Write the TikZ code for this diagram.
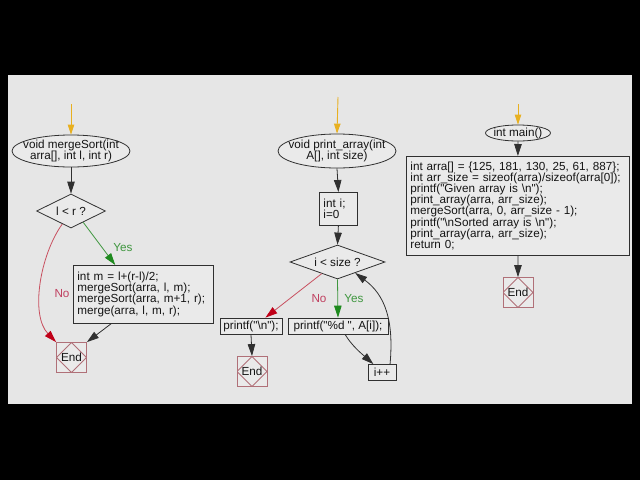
\documentclass[tikz,border=0pt]{standalone}
\usepackage{fontspec}
\newfontfamily\codefont{Liberation Sans}
\usetikzlibrary{shapes.geometric,arrows.meta,calc}
\definecolor{panelc}{HTML}{E6E6E6}
\definecolor{boxc}{HTML}{EAEAEA}
\definecolor{bordc}{HTML}{303030}
\definecolor{txtc}{HTML}{141414}
\definecolor{endc}{HTML}{B07078}
\definecolor{yesc}{HTML}{3E963E}
\definecolor{yestip}{HTML}{1E8A1E}
\definecolor{noc}{HTML}{C85060}
\definecolor{notip}{HTML}{C00018}
\definecolor{notext}{HTML}{C04060}
\definecolor{startc}{HTML}{E8B020}
\begin{document}
\begin{tikzpicture}[x=1pt,y=-1pt,
  every node/.style={font=\codefont\fontsize{11.7}{11.1}\selectfont, text=txtc},
  flow/.style={draw=bordc, line width=0.8pt, -{Triangle[length=12pt,width=7.5pt]}},
  startarrow/.style={draw=startc, line width=0.9pt, -{Triangle[length=10pt,width=6.5pt]}},
  yesarrow/.style={draw=yesc, line width=0.8pt, -{Triangle[length=12pt,width=7.5pt,color=yestip]}},
  noarrow/.style={draw=noc, line width=0.8pt, -{Triangle[length=12pt,width=7.5pt,color=notip]}},
  ellnode/.style={ellipse, draw=bordc, fill=boxc, line width=0.8pt, inner sep=0pt},
  dec/.style={diamond, draw=bordc, fill=boxc, line width=0.8pt, inner sep=0pt},
  box/.style={rectangle, draw=bordc, fill=boxc, line width=0.8pt, inner xsep=4pt, inner ysep=1pt, align=left, anchor=north west},
  sbox/.style={rectangle, draw=bordc, fill=boxc, line width=0.8pt, inner sep=0pt, minimum height=16pt},
  endbox/.style={rectangle, draw=endc, fill=boxc, line width=0.8pt, inner sep=0pt, minimum size=30pt,
    path picture={\draw[endc, line width=0.8pt] (path picture bounding box.north) -- (path picture bounding box.east) -- (path picture bounding box.south) -- (path picture bounding box.west) -- cycle;}},
  yeslbl/.style={text=yesc},
  nolbl/.style={text=notext}]
\fill[black] (0,0) rectangle (640,480);
\useasboundingbox (0,0) rectangle (640,480);
\fill[panelc] (8,75) rectangle (632,404);

% ---- mergeSort ----
\coordinate (s1) at (71,104);
\node[ellnode, minimum width=118pt, minimum height=32pt] (e1) at (71,151) {};
\node[align=center] (e1t) at (e1) {void mergeSort(int\\arra[], int l, int r)};
\node[dec, minimum width=69pt, minimum height=34pt, aspect=2] (d1) at (71,211) {l < r ?};
\node[box, minimum width=140pt, minimum height=58pt, text width=132pt] (b1) at (73,265)
  {int m = l+(r-l)/2;\\mergeSort(arra, l, m);\\mergeSort(arra, m+1, r);\\merge(arra, l, m, r);};
\node[endbox] (end1) at (71.5,357.5) {End};

\draw[startarrow] (s1) -- (e1.north);
\draw[flow] (e1.south) -- (d1.north);
\draw[yesarrow] ($(d1.east)!0.65!(d1.south)$) -- ($(b1.north west)!0.3!(b1.north east)$);
\draw[noarrow] ($(d1.west)!0.75!(d1.south)$) .. controls (40,255) and (30,315) .. (end1.north west);
\draw[flow] ($(b1.south west)!0.27!(b1.south east)$) -- (end1.north east);
\node[yeslbl] (y1) at (123,248) {Yes};
\node[nolbl] (n1) at (62,294) {No};

% ---- print_array ----
\coordinate (s2) at (338,97);
\node[ellnode, minimum width=118pt, minimum height=34pt] (e2) at (337,151) {};
\node[align=center] (e2t) at (e2) {void print\_array(int\\A[], int size)};
\node[box, minimum width=38pt, minimum height=33pt, text width=30pt] (bi) at (319,192) {int i;\\i=0};
\node[dec, minimum width=95pt, minimum height=34pt, aspect=2.8] (d2) at (337.5,262) {i < size ?};
\node[sbox, minimum width=62pt] (p1) at (251,326) {printf("\textbackslash n");};
\node[sbox, minimum width=100pt] (p2) at (338,326) {printf("\%d ", A[i]);};
\node[endbox] (end2) at (252,371.5) {End};
\node[sbox, minimum width=28pt] (inc) at (382,372.5) {i++};

\draw[startarrow] (s2) -- (e2.north);
\draw[flow] (e2.south) -- (bi.north);
\draw[flow] (bi.south) -- (d2.north);
\draw[noarrow] ($(d2.west)!0.67!(d2.south)$) -- ($(p1.north west)!0.73!(p1.north east)$);
\draw[yesarrow] (d2.south) -- (p2.north);
\draw[flow] (p1.south) -- (end2.north);
\draw[flow] ($(p2.south west)!0.57!(p2.south east)$) .. controls (352,346) and (362,354) .. ($(inc.north west)!0.2!(inc.north east)$);
\draw[flow] ($(inc.north west)!0.78!(inc.north east)$) .. controls (394,320) and (385,295) .. ($(d2.east)!0.63!(d2.south)$);
\node[nolbl] (n2) at (319,299) {No};
\node[yeslbl] (y2) at (354,299) {Yes};

% ---- main ----
\coordinate (s3) at (518,104);
\node[ellnode, minimum width=65pt, minimum height=16pt] (e3) at (518,133) {};
\node (e3t) at (e3) {int main()};
\node[box, minimum width=223pt, minimum height=99pt, text width=215pt] (b3) at (406,156)
  {int arra[] = \{125, 181, 130, 25, 61, 887\};\\
   int arr\_size = sizeof(arra)/sizeof(arra[0]);\\
   printf("Given array is \textbackslash n");\\
   print\_array(arra, arr\_size);\\
   mergeSort(arra, 0, arr\_size - 1);\\
   printf("\textbackslash nSorted array is \textbackslash n");\\
   print\_array(arra, arr\_size);\\
   return 0;};
\node[endbox] (end3) at (518,292.5) {End};

\draw[startarrow] (s3) -- (e3.north);
\draw[flow] (e3.south) -- (b3.north);
\draw[flow] (b3.south) -- (end3.north);
\end{tikzpicture}
\end{document}
